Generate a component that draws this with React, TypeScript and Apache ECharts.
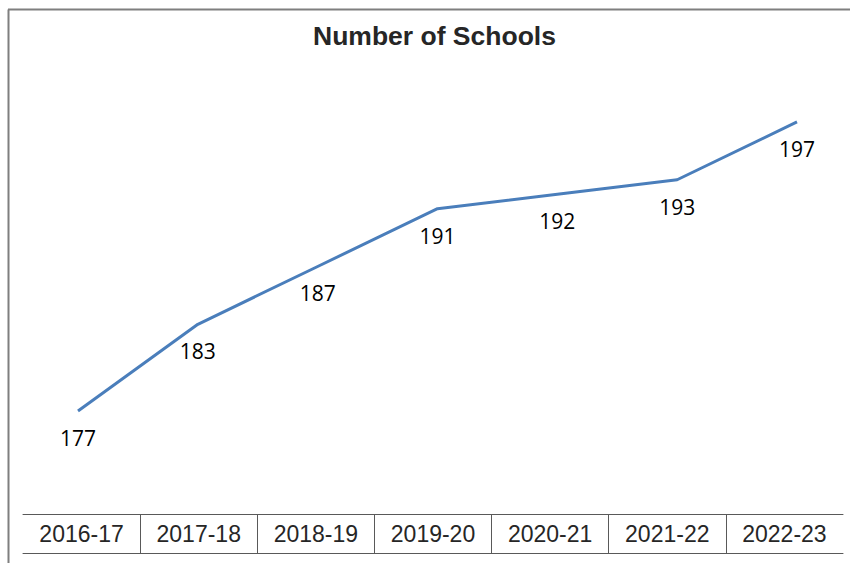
import React, { useEffect, useRef } from "react";
import * as echarts from "echarts";

const categories = ["2016-17", "2017-18", "2018-19", "2019-20", "2020-21", "2021-22", "2022-23"];
const schools = [177, 183, 187, 191, 192, 193, 197];
const chartTitle = "Number of Schools";

export default function App() {
  const ref = useRef<HTMLDivElement>(null);
  useEffect(() => {
    if (!ref.current) return;
    const chart = echarts.init(ref.current, null, { renderer: "svg" });
    const sepColors = categories.map(() => "#595959");
    sepColors.unshift("rgba(0,0,0,0)");
    sepColors[categories.length] = "rgba(0,0,0,0)";
    chart.setOption({
      animation: false,
      backgroundColor: "#ffffff",
      title: {
        text: chartTitle,
        left: 313,
        top: 22,
        padding: 0,
        textStyle: {
          fontFamily: "Liberation Sans",
          fontSize: 26.5,
          fontWeight: "bold",
          color: "#262626",
        },
      },
      graphic: [
        { type: "line", shape: { x1: 8.5, y1: 9.5, x2: 8.5, y2: 563 }, style: { stroke: "#7f7f7f", lineWidth: 2 } },
        { type: "line", shape: { x1: 8, y1: 9.5, x2: 850, y2: 9.5 }, style: { stroke: "#7f7f7f", lineWidth: 2 } },
      ],
      grid: [
        { left: 78, right: 53, top: 78.6, bottom: 50.8 },
        { left: 23, right: 7, top: 514, bottom: 10 },
      ],
      xAxis: [
        {
          type: "category",
          gridIndex: 0,
          data: categories,
          boundaryGap: false,
          show: false,
        },
        {
          type: "category",
          gridIndex: 1,
          data: categories,
          position: "top",
          boundaryGap: true,
          axisLine: { show: true, onZero: false, lineStyle: { color: "#595959", width: 1 } },
          axisTick: { show: false },
          splitLine: {
            show: true,
            interval: 0,
            lineStyle: { color: sepColors, width: 1 },
          },
          axisLabel: {
            inside: true,
            interval: 0,
            margin: 8,
            fontFamily: "Liberation Sans",
            fontSize: 23,
            color: "#262626",
          },
        },
        {
          type: "category",
          gridIndex: 1,
          data: categories,
          position: "bottom",
          axisLine: { show: true, onZero: false, lineStyle: { color: "#595959", width: 1 } },
          axisTick: { show: false },
          axisLabel: { show: false },
        },
      ],
      yAxis: [
        { type: "value", gridIndex: 0, min: 170, max: 200, show: false },
        { type: "value", gridIndex: 1, min: 0, max: 1, show: false },
      ],
      series: [
        {
          type: "line",
          xAxisIndex: 0,
          yAxisIndex: 0,
          data: schools,
          symbol: "circle",
          symbolSize: 1,
          showSymbol: true,
          itemStyle: { color: "rgba(0,0,0,0)", borderWidth: 0 },
          lineStyle: { color: "#4a7ebb", width: 3 },
          label: {
            show: true,
            position: "bottom",
            distance: 16,
            fontFamily: "Open Sans",
            fontSize: 21,
            color: "#000000",
          },
        },
      ],
    });
    return () => chart.dispose();
  }, []);
  return (
    <div
      ref={ref}
      style={{ position: "fixed", left: 0, top: 0, width: 850, height: 563 }}
    />
  );
}
